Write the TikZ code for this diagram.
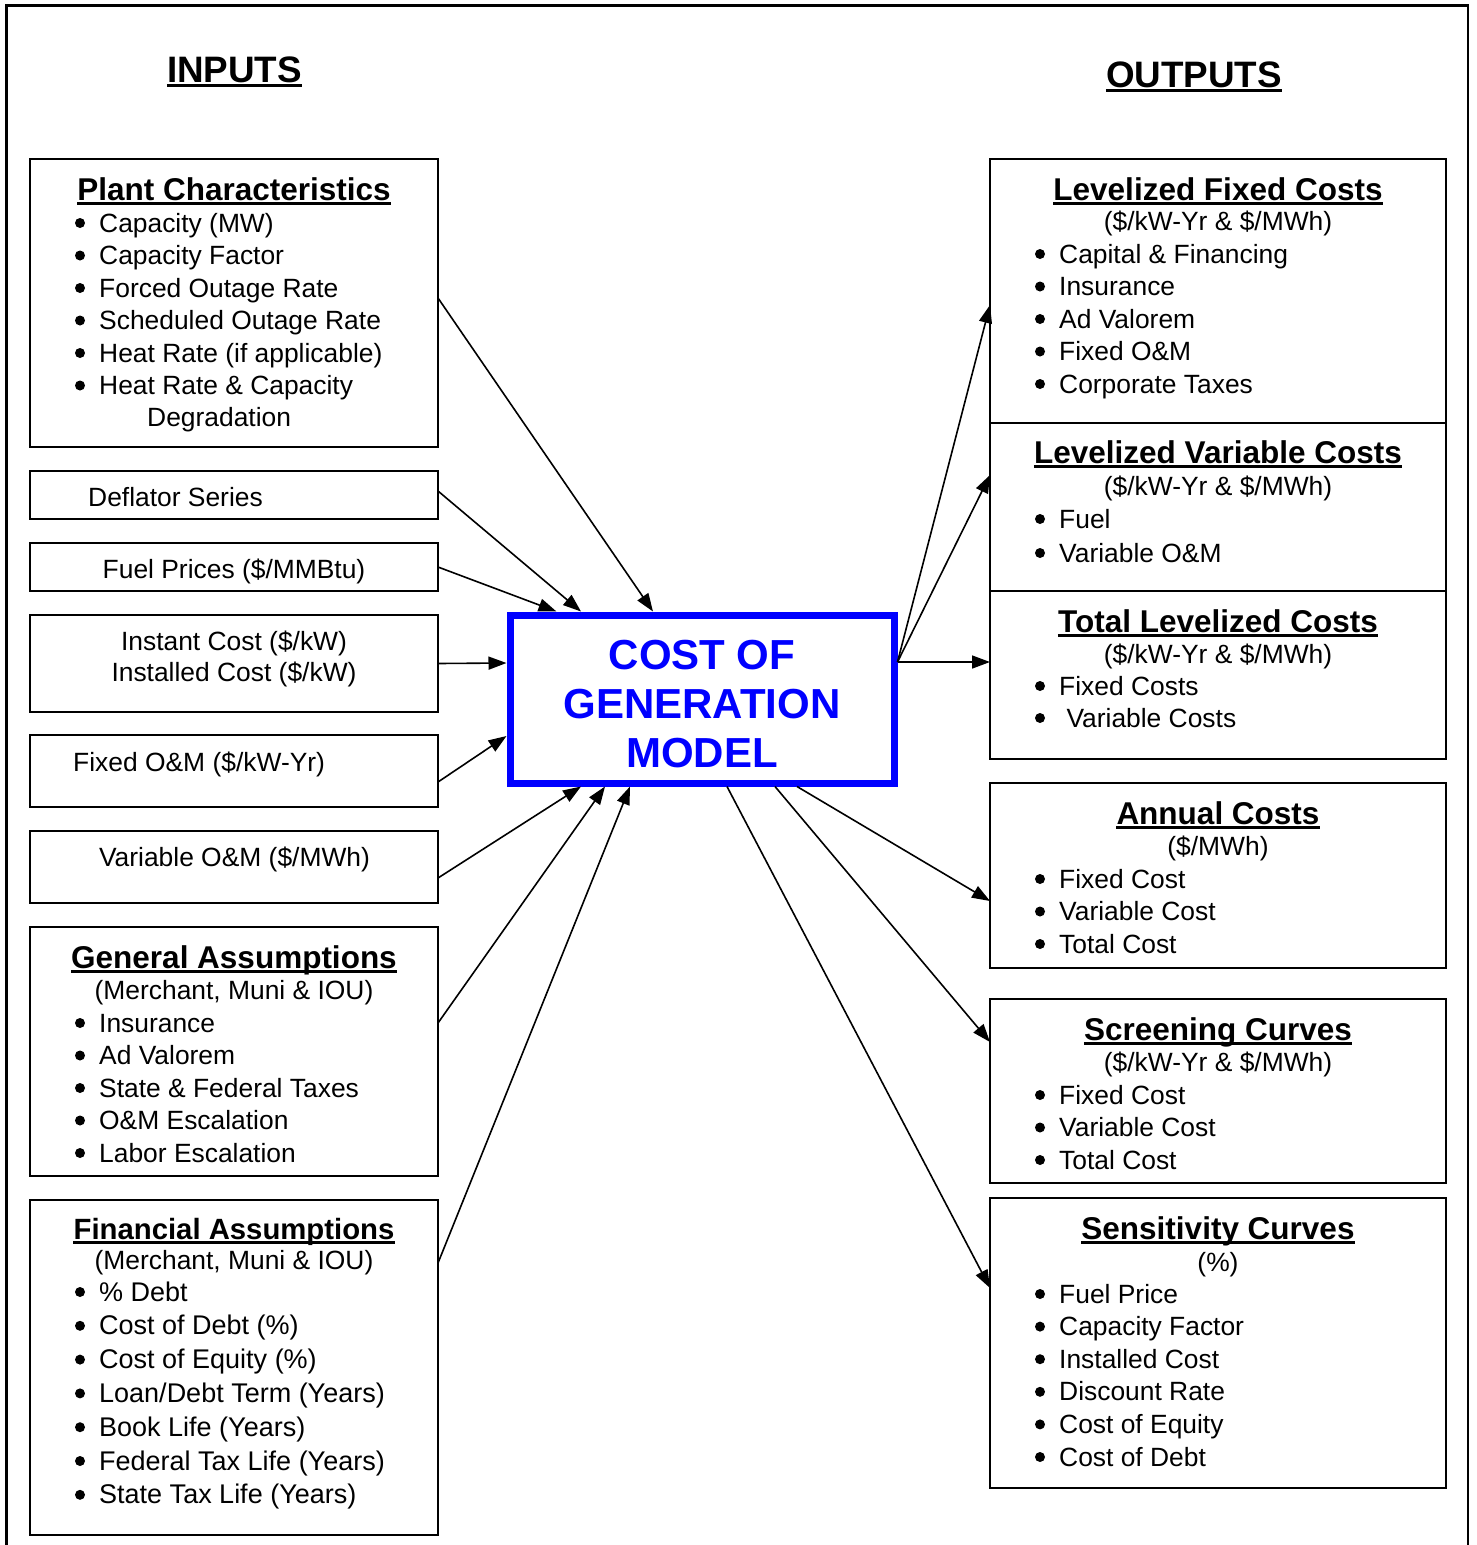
\documentclass[tikz,border=0pt]{standalone}
\usepackage{fontspec}
\setmainfont{Liberation Sans}
\usetikzlibrary{arrows.meta}
\definecolor{modelblue}{rgb}{0,0,1}
\newcommand{\itemfont}{\fontsize{26.4pt}{32.5pt}\selectfont}
\newcommand{\finfont}{\fontsize{27pt}{33.8pt}\selectfont}
\newcommand{\headfont}{\fontsize{31.5pt}{36pt}\selectfont\bfseries}
\newcommand{\sidefont}{\fontsize{36.8pt}{42pt}\selectfont\bfseries}
\newcommand{\titlefont}{\fontsize{42pt}{49.2pt}\selectfont\bfseries}

\begin{document}
\begin{tikzpicture}[x=1pt, y=-1pt,
	inbox/.style={draw, line width=2.4pt, outer sep=0pt, anchor=north west},
	item/.style={font=\itemfont, inner sep=0pt, anchor=base west},
	itemc/.style={font=\itemfont, inner sep=0pt, anchor=base},
	uline/.style={append after command={([yshift=-3pt]\tikzlastnode.base west) edge[line width=3pt] ([yshift=-3pt]\tikzlastnode.base east)}},
	heading/.style={font=\headfont, inner sep=0pt, anchor=base, uline},
	side/.style={font=\sidefont, inner sep=0pt, anchor=base, uline},
	link/.style={line width=1.6pt, -{Triangle[length=18pt, width=13pt]}}]
		\useasboundingbox (0,0) rectangle (1477,1545);
		\fill[white] (0,0) rectangle (1477,1545);
		
		%frame
		\draw[line width=2.5pt] (6.5,1545) -- (6.5,5.5) -- (1468,5.5) -- (1468,1545);
		
		\node[side] (inputs) at (234.5,82) {INPUTS};
		\node[side] (outputs) at (1194,87) {OUTPUTS};
		
		%input boxes
		\node[inbox, minimum width=408pt, minimum height=288pt] (plant) at (30,159) {};
		\node[inbox, minimum width=408pt, minimum height=48pt] (deflator) at (30,471) {};
		\node[inbox, minimum width=408pt, minimum height=48pt] (fuel) at (30,543) {};
		\node[inbox, minimum width=408pt, minimum height=97pt] (capcost) at (30,615) {};
		\node[inbox, minimum width=408pt, minimum height=72pt] (fixedom) at (30,735) {};
		\node[inbox, minimum width=408pt, minimum height=72pt] (varom) at (30,831) {};
		\node[inbox, minimum width=408pt, minimum height=249pt] (general) at (30,927) {};
		\node[inbox, minimum width=408pt, minimum height=335pt] (financial) at (30,1200) {};
		
		%output boxes
		\node[inbox, minimum width=456pt, minimum height=264pt] (lfc) at (990,159) {};
		\node[inbox, minimum width=456pt, minimum height=168pt] (lvc) at (990,423) {};
		\node[inbox, minimum width=456pt, minimum height=168pt] (tlc) at (990,591) {};
		\node[inbox, minimum width=456pt, minimum height=185pt] (annual) at (990,783) {};
		\node[inbox, minimum width=456pt, minimum height=184pt] (screening) at (990,999) {};
		\node[inbox, minimum width=456pt, minimum height=290pt] (sensitivity) at (990,1198) {};
		
		%model
		\node[draw=modelblue, line width=7pt, minimum width=384pt, minimum height=168pt,
			font=\titlefont, text=modelblue, align=center] (model) at (702,699) {\rule{0pt}{39pt}COST OF\\GENERATION\\MODEL};
		
		%input texts
		\node[heading] (planthead) at (234,200) {Plant Characteristics};
		\foreach \t [count=\i] in {Capacity (MW), Capacity Factor, Forced Outage Rate, Scheduled Outage Rate, Heat Rate (if applicable), Heat Rate \& Capacity}
		{
			\fill (80,{223+32.5*(\i-1)}) circle (5);
			\node[item] (plant\i) at (99,{232+32.5*(\i-1)}) {\t};
		}
		\node[item] (plant7) at (147,426) {Degradation};
		
		\node[item] (deflatortext) at (88,506) {Deflator Series};
		\node[itemc] (fueltext) at (234,578) {Fuel Prices (\$/MMBtu)};
		\node[itemc] (instanttext) at (234,650) {Instant Cost (\$/kW)};
		\node[itemc] (installedtext) at (234,681) {Installed Cost (\$/kW)};
		\node[item] (fixedomtext) at (73,771) {Fixed O\&M (\$/kW-Yr)};
		\node[itemc] (varomtext) at (234.5,866) {Variable O\&M (\$/MWh)};
		
		\node[heading] (generalhead) at (234,968) {General Assumptions};
		\node[itemc] (generalsub) at (234,999) {(Merchant, Muni \& IOU)};
		\foreach \t [count=\i] in {Insurance, Ad Valorem, State \& Federal Taxes, O\&M Escalation, Labor Escalation}
		{
			\fill (80,{1023+32.5*(\i-1)}) circle (5);
			\node[item] (general\i) at (99,{1032+32.5*(\i-1)}) {\t};
		}
		
		\node[heading, font=\fontsize{29.3pt}{34pt}\selectfont\bfseries] (financialhead) at (234,1239) {Financial Assumptions};
		\node[itemc] (financialsub) at (234,1269) {(Merchant, Muni \& IOU)};
		\foreach \t [count=\i] in {\% Debt, Cost of Debt (\%), Cost of Equity (\%), Loan/Debt Term (Years), Book Life (Years), Federal Tax Life (Years), State Tax Life (Years)}
		{
			\fill (80,{1292+33.8*(\i-1)}) circle (5);
			\node[item, font=\finfont] (financial\i) at (99,{1301+33.8*(\i-1)}) {\t};
		}
		
		%output texts
		\node[heading] (lfchead) at (1218,200) {Levelized Fixed Costs};
		\node[itemc] (lfcsub) at (1218,230) {(\$/kW-Yr \& \$/MWh)};
		\foreach \t [count=\i] in {Capital \& Financing, Insurance, Ad Valorem, Fixed O\&M, Corporate Taxes}
		{
			\fill (1040,{254+32.5*(\i-1)}) circle (5);
			\node[item] (lfc\i) at (1059,{263+32.5*(\i-1)}) {\t};
		}
		
		\node[heading] (lvchead) at (1218,463) {Levelized Variable Costs};
		\node[itemc] (lvcsub) at (1218,495) {(\$/kW-Yr \& \$/MWh)};
		\foreach \t [count=\i] in {Fuel, Variable O\&M}
		{
			\fill (1040,{519+34*(\i-1)}) circle (5);
			\node[item] (lvc\i) at (1059,{528+34*(\i-1)}) {\t};
		}
		
		\node[heading] (tlchead) at (1218,632) {Total Levelized Costs};
		\node[itemc] (tlcsub) at (1218,663) {(\$/kW-Yr \& \$/MWh)};
		\foreach \t [count=\i] in {Fixed Costs, \ Variable Costs}
		{
			\fill (1040,{686+32*(\i-1)}) circle (5);
			\node[item] (tlc\i) at (1059,{695+32*(\i-1)}) {\t};
		}
		
		\node[heading] (annualhead) at (1218,824) {Annual Costs};
		\node[itemc] (annualsub) at (1218,855) {(\$/MWh)};
		\foreach \t [count=\i] in {Fixed Cost, Variable Cost, Total Cost}
		{
			\fill (1040,{879+32.5*(\i-1)}) circle (5);
			\node[item] (annual\i) at (1059,{888+32.5*(\i-1)}) {\t};
		}
		
		\node[heading] (screeninghead) at (1218,1040) {Screening Curves};
		\node[itemc] (screeningsub) at (1218,1071) {(\$/kW-Yr \& \$/MWh)};
		\foreach \t [count=\i] in {Fixed Cost, Variable Cost, Total Cost}
		{
			\fill (1040,{1095+32.5*(\i-1)}) circle (5);
			\node[item] (screening\i) at (1059,{1104+32.5*(\i-1)}) {\t};
		}
		
		\node[heading] (sensitivityhead) at (1218,1239) {Sensitivity Curves};
		\node[itemc] (sensitivitysub) at (1218,1271) {(\%)};
		\foreach \t [count=\i] in {Fuel Price, Capacity Factor, Installed Cost, Discount Rate, Cost of Equity, Cost of Debt}
		{
			\fill (1040,{1294+32.6*(\i-1)}) circle (5);
			\node[item] (sensitivity\i) at (1059,{1303+32.6*(\i-1)}) {\t};
		}
		
		%arrows in
		\draw[link] ([yshift=5pt]plant.east) -- ([xshift=146.5pt]model.north west);
		\draw[link] ([yshift=4pt]deflator.east) -- ([xshift=74.5pt]model.north west);
		\draw[link] (fuel.east) -- ([xshift=50pt]model.north west);
		\draw[link] (capcost.east) -- ([yshift=36pt]model.west);
		\draw[link] ([yshift=-11pt]fixedom.east) -- ([yshift=-37pt]model.west);
		\draw[link] ([yshift=-11pt]varom.east) -- ([xshift=74.5pt]model.south west);
		\draw[link] ([yshift=28.5pt]general.east) -- ([xshift=98.5pt]model.south west);
		\draw[link] ([yshift=104.5pt]financial.east) -- ([xshift=123.5pt]model.south west);
		
		%arrows out
		\draw[link] ([yshift=37pt]model.east) -- ([yshift=-14pt]lfc.west);
		\draw[link] ([yshift=37pt]model.east) -- ([yshift=32pt]lvc.west);
		\draw[link] ([yshift=37pt]model.east) -- ([yshift=13pt]tlc.west);
		\draw[link] ([xshift=290.5pt]model.south west) -- ([yshift=-25.5pt]annual.west);
		\draw[link] ([xshift=268.5pt]model.south west) -- ([yshift=49pt]screening.west);
		\draw[link] ([xshift=220.5pt]model.south west) -- ([yshift=55pt]sensitivity.west);
\end{tikzpicture}
\end{document}
